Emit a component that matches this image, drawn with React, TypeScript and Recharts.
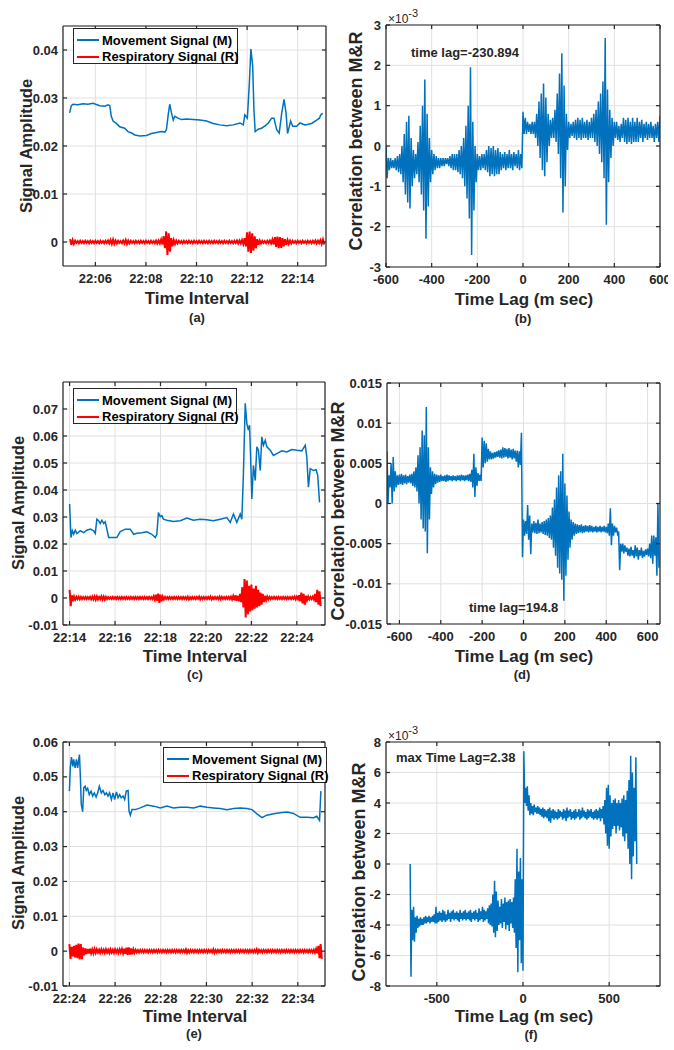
import React from "react";
import { CartesianGrid, Line, LineChart, XAxis, YAxis } from "recharts";

const FONT = '"Liberation Sans", Arial, Helvetica, sans-serif';
const INK = "#262626";
const GRID = "#e0e0e0";
const BLUE = "#0072BD";
const RED = "#FF0000";

const legendLabels = ["Movement Signal (M)", "Respiratory Signal (R)"];

// ---- (a) 22:05 - 22:15, minutes after 22:00 ----
const timeA = [
  4.98, 5.05, 5.12, 5.3, 5.51, 5.7, 5.91, 6.17, 6.37, 6.5, 6.57, 6.63, 6.7, 6.83, 6.96, 7.16, 7.29, 7.43, 7.56,
  7.76, 8.02, 8.22, 8.42, 8.61, 8.75, 8.81, 8.88, 8.94, 9.01, 9.08, 9.14, 9.27, 9.41, 9.6, 9.87, 10.13, 10.4,
  10.66, 10.92, 11.19, 11.45, 11.72, 11.85, 11.91, 12.01, 12.09, 12.15, 12.22, 12.27, 12.32, 12.44, 12.57, 12.71,
  12.84, 12.97, 13.06, 13.17, 13.27, 13.37, 13.46, 13.54, 13.6, 13.67, 13.72, 13.8, 13.96, 14.09, 14.29, 14.55,
  14.75, 14.86, 14.92, 14.99,
];
const moveA = [
  0.0269, 0.0284, 0.0287, 0.0286, 0.0288, 0.0287, 0.0289, 0.0284, 0.0283, 0.0286, 0.0284, 0.0262, 0.0252, 0.0247,
  0.024, 0.0237, 0.023, 0.0227, 0.0223, 0.0221, 0.0222, 0.0226, 0.0228, 0.023, 0.0229, 0.0234, 0.0265, 0.0287,
  0.0269, 0.0254, 0.0262, 0.0258, 0.0255, 0.0256, 0.0255, 0.0254, 0.0252, 0.0247, 0.0244, 0.0242, 0.0244, 0.0248,
  0.0244, 0.0265, 0.0258, 0.0332, 0.0402, 0.0367, 0.0276, 0.023, 0.0235, 0.0237, 0.0242, 0.0248, 0.0258, 0.0258,
  0.0234, 0.0227, 0.0269, 0.0297, 0.0269, 0.0226, 0.0241, 0.0252, 0.0241, 0.0241, 0.0248, 0.0244, 0.0247, 0.0254,
  0.0258, 0.0265, 0.0268,
];
// respiratory envelope (x1e-3), every 0.1 min from 22:05
const respHiA = [
  0.6, 0.4, 0.25, 0.2, 0.25, 0.2, 0.25, 0.2, 0.25, 0.2,
  0.25, 0.2, 0.25, 0.2, 0.25, 0.3, 0.4, 0.5, 0.3, 0.25,
  0.2, 0.3, 0.4, 0.3, 0.25, 0.2, 0.25, 0.2, 0.25, 0.2,
  0.25, 0.2, 0.25, 0.2, 0.3, 0.3, 0.5, 1.2, 2.2, 1.8,
  0.8, 0.4, 0.3, 0.25, 0.2, 0.25, 0.2, 0.25, 0.2, 0.25,
  0.2, 0.25, 0.2, 0.25, 0.2, 0.25, 0.2, 0.25, 0.2, 0.25,
  0.2, 0.25, 0.2, 0.25, 0.2, 0.25, 0.3, 0.3, 0.4, 0.8,
  2.0, 2.2, 1.8, 1.2, 0.6, 0.3, 0.25, 0.2, 0.25, 0.3,
  0.5, 1.0, 1.1, 1.0, 0.8, 0.6, 0.4, 0.3, 0.25, 0.2,
  0.25, 0.2, 0.25, 0.2, 0.25, 0.2, 0.25, 0.3, 0.25, 0.4, 0.5,
];
const respLoA = [
  -0.6, -0.4, -0.2, -0.25, -0.2, -0.25, -0.2, -0.25, -0.2, -0.25,
  -0.2, -0.25, -0.2, -0.25, -0.2, -0.3, -0.4, -0.4, -0.3, -0.2,
  -0.25, -0.3, -0.4, -0.3, -0.2, -0.25, -0.2, -0.25, -0.2, -0.25,
  -0.2, -0.25, -0.2, -0.25, -0.3, -0.3, -0.5, -1.3, -2.7, -2.0,
  -0.9, -0.4, -0.3, -0.2, -0.25, -0.2, -0.25, -0.2, -0.25, -0.2,
  -0.25, -0.2, -0.25, -0.2, -0.25, -0.2, -0.25, -0.2, -0.25, -0.2,
  -0.25, -0.2, -0.25, -0.2, -0.25, -0.2, -0.3, -0.3, -0.4, -0.9,
  -2.0, -2.3, -1.8, -1.3, -0.6, -0.3, -0.2, -0.25, -0.2, -0.3,
  -0.5, -1.0, -1.3, -1.2, -0.9, -0.6, -0.4, -0.3, -0.2, -0.25,
  -0.2, -0.25, -0.2, -0.25, -0.2, -0.25, -0.2, -0.3, -0.25, -0.4, -0.5,
];

// ---- (b) correlation (x1e-3), every 10 ms from -600 ----
const corrHiB = [
  0.0, -0.3, -0.3, -0.35, -0.3, -0.25, -0.2, 0.0, 0.3, 0.6,
  0.75, 0.2, -0.1, -0.2, 0.1, 0.5, 1.0, 1.65, 0.8, 0.2,
  -0.1, -0.2, -0.25, -0.3, -0.3, -0.3, -0.3, -0.3, -0.25, -0.2,
  -0.2, -0.2, -0.1, 0.0, 0.2, 0.5, 1.0, 1.95, 0.6, 0.0,
  -0.2, -0.25, -0.2, -0.2, -0.1, 0.0, -0.05, 0.0, -0.1, -0.05,
  -0.15, -0.2, -0.15, -0.2, -0.1, -0.2, -0.15, -0.2, -0.1, -0.2,
  0.85, 0.7, 0.6, 0.55, 0.6, 0.6, 0.8, 1.1, 1.3, 1.55,
  1.2, 0.8, 0.65, 0.7, 0.9, 1.3, 1.8, 2.3, 1.5, 0.8,
  0.6, 0.55, 0.6, 0.65, 0.7, 0.65, 0.7, 0.6, 0.65, 0.6,
  0.7, 0.8, 0.9, 1.1, 1.3, 1.6, 2.68, 1.4, 0.9, 0.7,
  0.6, 0.6, 0.5, 0.55, 0.7, 0.65, 0.7, 0.6, 0.7, 0.6,
  0.7, 0.6, 0.65, 0.55, 0.6, 0.55, 0.6, 0.5, 0.55, 0.6,
  0.75,
];
const corrLoB = [
  -0.8, -0.6, -0.55, -0.55, -0.6, -0.65, -0.7, -0.9, -1.2, -1.4,
  -1.55, -1.0, -0.8, -0.7, -0.9, -1.2, -1.6, -2.3, -1.5, -0.9,
  -0.7, -0.6, -0.55, -0.55, -0.5, -0.5, -0.45, -0.5, -0.55, -0.6,
  -0.6, -0.65, -0.7, -0.8, -1.0, -1.3, -1.8, -2.7, -1.6, -0.9,
  -0.6, -0.6, -0.55, -0.6, -0.65, -0.75, -0.7, -0.75, -0.7, -0.7,
  -0.6, -0.55, -0.6, -0.55, -0.55, -0.6, -0.5, -0.55, -0.6, -0.55,
  0.3, 0.3, 0.35, 0.3, 0.3, 0.2, 0.0, -0.3, -0.6, -0.75,
  -0.4, 0.0, 0.2, 0.2, 0.1, -0.2, -0.8, -1.65, -1.0, -0.1,
  0.2, 0.25, 0.2, 0.15, 0.2, 0.15, 0.2, 0.2, 0.15, 0.2,
  0.2, 0.1, 0.0, -0.2, -0.4, -0.8, -1.95, -0.9, -0.3, 0.0,
  0.2, 0.15, 0.1, 0.2, 0.1, 0.05, 0.1, 0.05, 0.1, 0.1,
  0.1, 0.2, 0.1, 0.2, 0.15, 0.2, 0.2, 0.1, 0.2, 0.1,
  0.15,
];

// ---- (c) 22:14 - 22:25 ----
const timeC = [
  14.0, 14.06, 14.12, 14.18, 14.25, 14.32, 14.47, 14.62, 14.76, 14.91, 15.06, 15.13, 15.2, 15.28, 15.35, 15.42,
  15.5, 15.57, 15.64, 15.72, 15.86, 16.08, 16.23, 16.45, 16.67, 16.82, 16.96, 17.18, 17.4, 17.62, 17.77, 17.84,
  17.91, 17.99, 18.06, 18.13, 18.28, 18.57, 18.87, 19.16, 19.45, 19.75, 20.04, 20.33, 20.63, 20.92, 21.07, 21.21,
  21.36, 21.51, 21.58, 21.65, 21.73, 21.8, 21.87, 21.92, 21.98, 22.02, 22.09, 22.17, 22.24, 22.31, 22.39, 22.46,
  22.53, 22.61, 22.68, 22.83, 22.97, 23.12, 23.34, 23.56, 23.78, 24.0, 24.22, 24.37, 24.44, 24.51, 24.59, 24.73,
  24.85, 24.92, 25.0,
];
const moveC = [
  0.0348, 0.0224, 0.0249, 0.0236, 0.0251, 0.0239, 0.0249, 0.0242, 0.0251, 0.0255, 0.0249, 0.0239, 0.0292, 0.0286,
  0.0276, 0.0288, 0.0276, 0.0282, 0.0255, 0.0224, 0.0224, 0.0224, 0.0246, 0.0255, 0.0255, 0.0236, 0.024, 0.0242,
  0.0245, 0.0236, 0.0224, 0.0236, 0.0316, 0.0301, 0.0305, 0.0292, 0.0288, 0.0283, 0.0286, 0.0296, 0.0288, 0.0292,
  0.029, 0.0286, 0.0292, 0.0298, 0.028, 0.0311, 0.028, 0.0311, 0.0292, 0.046, 0.0721, 0.0647, 0.0622, 0.064,
  0.0485, 0.0367, 0.0491, 0.0435, 0.056, 0.0547, 0.0472, 0.0597, 0.0566, 0.0584, 0.056, 0.0547, 0.0528, 0.0535,
  0.0545, 0.0541, 0.055, 0.0547, 0.0545, 0.0566, 0.0522, 0.041, 0.0479, 0.0472, 0.0475, 0.0454, 0.0354,
];
const respHiC = [
  3.0, 1.0, 0.5, 0.4, 0.5, 0.4, 0.3, 0.4, 0.3, 0.4,
  0.5, 0.6, 0.6, 0.4, 0.6, 0.5, 0.4, 0.3, 0.3, 0.4,
  0.3, 0.4, 0.3, 0.4, 0.3, 0.4, 0.3, 0.4, 0.3, 0.4,
  0.3, 0.4, 0.3, 0.4, 0.3, 0.4, 0.3, 0.6, 1.2, 1.6,
  1.2, 0.5, 0.4, 0.3, 0.4, 0.3, 0.4, 0.3, 0.4, 0.3,
  0.4, 0.3, 0.5, 0.3, 0.4, 0.3, 0.4, 0.5, 0.3, 0.4,
  0.3, 0.4, 0.5, 0.3, 0.4, 0.3, 0.5, 0.4, 0.3, 0.4,
  0.4, 0.5, 0.7, 1.0, 0.8, 1.5, 4.0, 7.0, 6.5, 4.5,
  5.0, 3.5, 4.5, 3.0, 2.0, 1.5, 0.8, 0.5, 0.4, 0.3,
  0.4, 0.3, 0.4, 0.3, 0.4, 0.3, 0.4, 0.3, 0.4, 0.5,
  0.5, 1.0, 2.0, 1.5, 0.8, 0.5, 0.4, 0.5, 1.5, 3.0, 2.5,
];
const respLoC = [
  -3.0, -1.2, -0.6, -0.4, -0.5, -0.4, -0.3, -0.4, -0.3, -0.5,
  -0.5, -0.6, -0.5, -0.4, -0.6, -0.6, -0.4, -0.3, -0.3, -0.3,
  -0.4, -0.3, -0.4, -0.3, -0.4, -0.3, -0.4, -0.3, -0.4, -0.3,
  -0.4, -0.3, -0.4, -0.3, -0.4, -0.3, -0.4, -0.6, -1.0, -1.8,
  -1.2, -0.5, -0.3, -0.4, -0.3, -0.4, -0.3, -0.4, -0.3, -0.4,
  -0.3, -0.4, -0.5, -0.4, -0.3, -0.4, -0.3, -0.5, -0.4, -0.3,
  -0.4, -0.3, -0.5, -0.4, -0.3, -0.4, -0.5, -0.3, -0.4, -0.3,
  -0.4, -0.5, -0.8, -1.0, -1.2, -1.5, -3.5, -7.2, -6.0, -5.0,
  -4.5, -4.0, -3.5, -3.0, -2.5, -1.5, -0.8, -0.5, -0.4, -0.3,
  -0.3, -0.4, -0.3, -0.4, -0.3, -0.4, -0.3, -0.4, -0.3, -0.5,
  -0.4, -1.2, -2.0, -2.5, -0.8, -0.5, -0.4, -0.5, -1.5, -2.5, -3.0,
];

// ---- (d) correlation (x1e-3), every 10 ms from -660 ----
const corrHiD = [
  6.5, 3.5, 5.0, 5.8, 4.0, 3.5, 3.6, 3.7, 3.5, 3.6,
  3.4, 3.6, 3.7, 4.0, 4.5, 6.0, 7.0, 9.1, 8.5, 12.0,
  7.0, 4.5, 4.0, 3.7, 3.6, 3.5, 3.6, 3.4, 3.5, 3.6,
  3.5, 3.4, 3.5, 3.4, 3.5, 3.5, 3.6, 3.5, 3.5, 3.6,
  3.7, 4.2, 6.2, 4.5, 3.8, 3.6, 8.2, 7.8, 7.5, 6.8,
  6.5, 6.3, 6.4, 6.5, 6.6, 6.7, 7.0, 6.9, 6.8, 6.9,
  6.7, 6.8, 6.6, 6.6, 6.5, 8.8, -2.0, -2.2, -0.2, -1.5,
  -2.5, -2.2, -2.4, -2.0, -2.5, -2.3, -2.2, -2.0, -1.8, -1.5,
  -0.5, 0.5, 2.0, 3.5, 4.0, 6.2, 2.5, 1.0, -1.0, -2.0,
  -2.3, -2.5, -2.6, -2.7, -2.6, -2.8, -2.7, -2.8, -2.7, -2.8,
  -2.9, -2.8, -2.9, -2.8, -2.9, -2.8, -2.9, -2.5, -0.6, -2.5,
  -2.8, -3.0, -3.5, -5.0, -5.0, -5.2, -5.5, -5.6, -5.4, -5.8,
  -5.2, -5.5, -5.8, -5.5, -5.9, -5.7, -5.6, -5.0, -4.0, -4.0,
  -4.2, 0.0,
];
const corrLoD = [
  0.0, 2.0, 0.0, 1.5, 2.0, 2.3, 2.4, 2.3, 2.5, 2.4,
  2.6, 2.5, 2.2, 2.0, 1.5, 0.0, -2.0, -3.1, -3.5, -6.2,
  -2.0, 1.2, 2.0, 2.4, 2.6, 2.7, 2.8, 2.8, 2.7, 2.8,
  2.9, 2.8, 2.9, 2.8, 2.9, 2.8, 2.9, 2.8, 2.9, 2.8,
  2.7, 2.0, 0.8, 2.2, 2.8, 2.8, 4.5, 5.0, 5.2, 5.5,
  5.5, 5.6, 5.7, 5.8, 5.7, 5.6, 5.7, 5.8, 5.6, 5.7,
  5.5, 5.6, 5.2, 4.5, 4.8, -6.7, -4.0, -3.8, -4.5, -6.3,
  -3.6, -3.7, -3.8, -3.7, -3.6, -3.8, -3.9, -4.0, -4.3, -4.5,
  -5.5, -6.5, -8.0, -8.7, -9.5, -12.1, -9.0, -7.0, -5.5, -4.5,
  -4.0, -3.8, -3.7, -3.6, -3.7, -3.6, -3.5, -3.6, -3.5, -3.6,
  -3.5, -3.6, -3.5, -3.6, -3.5, -3.6, -3.7, -4.0, -5.2, -4.0,
  -3.6, -3.8, -8.3, -6.0, -6.2, -6.0, -6.5, -6.6, -6.5, -6.8,
  -6.6, -7.0, -6.5, -6.8, -6.6, -6.4, -6.6, -6.8, -7.5, -6.5,
  -9.0, -8.0,
];

// ---- (e) 22:24 - 22:35 ----
const timeE = [
  24.0, 24.04, 24.09, 24.15, 24.19, 24.25, 24.31, 24.36, 24.44, 24.48, 24.52, 24.58, 24.63, 24.69, 24.74, 24.8,
  24.87, 24.95, 25.02, 25.09, 25.17, 25.24, 25.31, 25.4, 25.47, 25.55, 25.62, 25.69, 25.76, 25.84, 25.91, 25.98,
  26.06, 26.13, 26.2, 26.27, 26.35, 26.42, 26.49, 26.57, 26.61, 26.67, 26.74, 26.89, 27.1, 27.4, 27.69, 27.98,
  28.27, 28.56, 28.85, 29.15, 29.44, 29.73, 30.02, 30.31, 30.6, 30.9, 31.19, 31.48, 31.77, 31.99, 32.21, 32.43,
  32.64, 32.94, 33.23, 33.52, 33.81, 34.1, 34.39, 34.69, 34.83, 34.95, 35.01,
];
const moveE = [
  0.0459, 0.0526, 0.0557, 0.053, 0.055, 0.0526, 0.055, 0.0526, 0.0564, 0.0502, 0.0421, 0.04, 0.0469, 0.0473,
  0.0461, 0.0467, 0.0449, 0.0459, 0.0445, 0.0454, 0.0442, 0.0454, 0.0473, 0.0454, 0.0461, 0.0449, 0.0454, 0.0445,
  0.0454, 0.0435, 0.0454, 0.0435, 0.0457, 0.044, 0.0449, 0.044, 0.0445, 0.0435, 0.0459, 0.0461, 0.0402, 0.039,
  0.0406, 0.0406, 0.0411, 0.0419, 0.0416, 0.0411, 0.0416, 0.0411, 0.0413, 0.0413, 0.0411, 0.0416, 0.0413, 0.0411,
  0.0409, 0.0406, 0.0409, 0.0411, 0.0409, 0.0406, 0.0394, 0.0383, 0.039, 0.0394, 0.0397, 0.0399, 0.0395, 0.0384,
  0.0384, 0.0383, 0.0387, 0.0375, 0.0459,
];
const respHiE = [
  2.0, 1.2, 1.5, 1.8, 2.2, 2.0, 1.0, 0.8, 0.6, 0.7,
  0.5, 0.6, 0.5, 0.4, 0.5, 0.4, 0.5, 0.4, 0.5, 0.4,
  0.5, 0.4, 0.5, 0.6, 0.7, 1.0, 1.1, 0.8, 0.5, 0.35,
  0.3, 0.35, 0.3, 0.35, 0.3, 0.35, 0.3, 0.35, 0.3, 0.35,
  0.3, 0.35, 0.3, 0.35, 0.3, 0.35, 0.3, 0.35, 0.3, 0.35,
  0.3, 0.5, 0.3, 0.35, 0.3, 0.35, 0.3, 0.35, 0.3, 0.35,
  0.3, 0.35, 0.3, 0.5, 0.3, 0.35, 0.3, 0.35, 0.3, 0.35,
  0.3, 0.35, 0.3, 0.35, 0.3, 0.35, 0.3, 0.35, 0.3, 0.35,
  0.3, 0.35, 0.5, 0.35, 0.3, 0.35, 0.3, 0.35, 0.3, 0.35,
  0.3, 0.35, 0.3, 0.35, 0.3, 0.35, 0.3, 0.35, 0.3, 0.35,
  0.3, 0.35, 0.3, 0.35, 0.3, 0.35, 0.3, 0.4, 0.6, 1.5, 2.0,
];
const respLoE = [
  -2.2, -1.5, -1.8, -2.0, -2.4, -2.3, -1.2, -0.8, -0.7, -0.6,
  -0.6, -0.5, -0.4, -0.5, -0.4, -0.5, -0.4, -0.5, -0.4, -0.5,
  -0.4, -0.5, -0.4, -0.6, -0.8, -1.1, -1.0, -0.9, -0.5, -0.35,
  -0.35, -0.3, -0.35, -0.3, -0.35, -0.3, -0.35, -0.3, -0.35, -0.3,
  -0.35, -0.3, -0.35, -0.3, -0.35, -0.3, -0.35, -0.3, -0.35, -0.3,
  -0.35, -0.5, -0.35, -0.3, -0.35, -0.3, -0.35, -0.3, -0.35, -0.3,
  -0.35, -0.3, -0.35, -0.5, -0.35, -0.3, -0.35, -0.3, -0.35, -0.3,
  -0.35, -0.3, -0.35, -0.3, -0.35, -0.3, -0.35, -0.3, -0.35, -0.3,
  -0.35, -0.3, -0.5, -0.3, -0.35, -0.3, -0.35, -0.3, -0.35, -0.3,
  -0.35, -0.3, -0.35, -0.3, -0.35, -0.3, -0.35, -0.3, -0.35, -0.3,
  -0.35, -0.3, -0.35, -0.3, -0.35, -0.3, -0.35, -0.4, -0.6, -2.0, -2.2,
];

// ---- (f) correlation (x1e-3), every 10 ms from -655 ----
const corrHiF = [
  0.0, -3.0, -2.8, -3.5, -3.4, -3.6, -3.5, -3.6, -3.5, -3.4,
  -3.5, -3.4, -3.5, -3.4, -3.3, -2.8, -3.2, -3.1, -3.2, -3.0,
  -3.1, -3.3, -3.0, -3.2, -3.1, -3.0, -3.2, -3.1, -3.2, -3.0,
  -3.2, -3.1, -3.0, -3.2, -3.1, -3.0, -3.2, -3.1, -3.0, -3.2,
  -2.9, -3.1, -2.8, -3.0, -3.1, -2.9, -2.7, -2.6, -2.0, -1.1,
  -1.8, -2.4, -2.8, -2.3, -2.6, -2.2, -2.5, -2.4, -2.3, -2.5,
  -2.2, -1.0, 1.0, -0.5, 0.4, -1.0, 7.4, 5.0, 5.1, 4.5,
  4.0, 3.8, 3.9, 3.7, 3.8, 3.7, 3.6, 3.7, 3.6, 3.5,
  3.6, 3.7, 3.5, 3.6, 3.5, 3.4, 3.6, 3.5, 3.4, 3.6,
  3.5, 3.7, 3.5, 3.6, 3.4, 3.5, 3.6, 3.4, 3.6, 3.5,
  3.7, 3.5, 3.4, 3.6, 3.5, 3.6, 3.4, 3.5, 3.6, 3.5,
  3.7, 3.6, 3.8, 4.2, 5.0, 5.2, 4.5, 4.0, 4.2, 4.3,
  4.0, 4.2, 4.0, 4.3, 4.5, 4.2, 4.8, 5.5, 7.1, 6.0,
  5.0, 7.0,
];
const corrLoF = [
  -7.4, -5.0, -5.1, -4.5, -4.2, -4.1, -4.0, -4.0, -3.9, -3.9,
  -3.8, -3.9, -3.8, -3.8, -3.9, -3.9, -3.8, -3.7, -3.8, -3.7,
  -3.8, -3.7, -3.6, -3.8, -3.6, -3.7, -3.6, -3.7, -3.8, -3.6,
  -3.7, -3.6, -3.7, -3.6, -3.7, -3.8, -3.6, -3.7, -3.6, -3.8,
  -3.7, -3.6, -3.8, -3.7, -3.6, -3.9, -4.0, -4.1, -4.5, -4.8,
  -4.4, -4.0, -3.9, -4.2, -3.8, -4.3, -4.0, -4.4, -3.9, -4.2,
  -4.5, -5.5, -7.1, -5.0, -6.5, -7.0, 4.0, 3.8, 3.5, 3.2,
  3.3, 3.2, 3.4, 3.3, 3.3, 3.2, 3.1, 3.0, 3.1, 3.0,
  2.8, 2.7, 3.0, 2.9, 3.0, 2.9, 3.0, 3.1, 2.9, 3.0,
  2.8, 3.0, 3.1, 2.9, 3.0, 2.9, 3.0, 3.1, 2.9, 3.0,
  3.1, 3.0, 2.9, 3.0, 3.1, 3.0, 2.9, 3.0, 2.9, 3.0,
  2.8, 3.0, 2.6, 2.0, 1.2, 1.0, 1.8, 2.3, 2.5, 2.0,
  2.5, 2.2, 2.4, 1.8, 1.5, 2.0, 1.0, 0.0, -1.0, 0.5,
  1.5, 0.0,
];

const minuteTicksA = [6, 8, 10, 12, 14];
const minuteTicksC = [14, 16, 18, 20, 22, 24];
const minuteTicksE = [24, 26, 28, 30, 32, 34];
const ampTicksA = [0, 0.01, 0.02, 0.03, 0.04];
const ampTicksC = [-0.01, 0, 0.01, 0.02, 0.03, 0.04, 0.05, 0.06, 0.07];
const ampTicksE = [-0.01, 0, 0.01, 0.02, 0.03, 0.04, 0.05, 0.06];
const lagTicksB = [-600, -400, -200, 0, 200, 400, 600];
const lagTicksD = [-600, -400, -200, 0, 200, 400, 600];
const lagTicksF = [-500, 0, 500];
const corrTicksB = [-3, -2, -1, 0, 1, 2, 3];
const corrTicksD = [-0.015, -0.01, -0.005, 0, 0.005, 0.01, 0.015];
const corrTicksF = [-8, -6, -4, -2, 0, 2, 4, 6, 8];

type Pt = { x: number; y: number };

const pairs = (xs: number[], ys: number[]): Pt[] => xs.map((x, i) => ({ x, y: ys[i] }));

// dense signals: alternate the upper and lower envelope samples
const zigzag = (x0: number, step: number, hi: number[], lo: number[], k = 1): Pt[] => {
  const out: Pt[] = [];
  hi.forEach((h, i) => {
    const x = x0 + i * step;
    out.push({ x, y: h * k });
    out.push({ x: x + step / 2, y: lo[i] * k });
  });
  return out;
};

const clock = (v: number) => `22:${String(v).padStart(2, "0")}`;
const blank = () => "";

type Series = { data: Pt[]; color: string; width: number };
interface PanelProps {
  left: number;
  top: number;
  width: number;
  height: number;
  xDomain: [number, number];
  xTicks: number[];
  xFmt?: (v: number) => string;
  yDomain: [number, number];
  yTicks: number[];
  series: Series[];
}

const YW = 50;
const XH = 34;
const PAD = 8;
const tickStyle = { fill: INK, fontSize: 13, fontWeight: 700, fontFamily: FONT };

function Panel(p: PanelProps) {
  return (
    <div style={{ position: "absolute", left: p.left - YW, top: p.top - PAD }}>
      <LineChart
        width={p.width + YW + PAD}
        height={p.height + PAD + XH}
        margin={{ top: 0, right: 0, bottom: 0, left: 0 }}
      >
        <CartesianGrid stroke={GRID} strokeWidth={1} />
        <XAxis
          type="number"
          dataKey="x"
          domain={p.xDomain}
          ticks={p.xTicks}
          tickFormatter={p.xFmt}
          interval={0}
          allowDataOverflow
          height={XH}
          stroke={INK}
          strokeWidth={1.2}
          tickSize={-4}
          tickMargin={12}
          tick={tickStyle}
        />
        <XAxis
          xAxisId="top"
          orientation="top"
          type="number"
          dataKey="x"
          domain={p.xDomain}
          ticks={p.xTicks}
          tickFormatter={blank}
          interval={0}
          allowDataOverflow
          height={PAD}
          stroke={INK}
          strokeWidth={1.2}
          tickSize={-4}
        />
        <YAxis
          type="number"
          domain={p.yDomain}
          ticks={p.yTicks}
          tickFormatter={(v: number) => String(v)}
          interval={0}
          allowDataOverflow
          width={YW}
          stroke={INK}
          strokeWidth={1.2}
          tickSize={-4}
          tickMargin={9}
          tick={tickStyle}
        />
        <YAxis
          yAxisId="right"
          orientation="right"
          type="number"
          domain={p.yDomain}
          ticks={p.yTicks}
          tickFormatter={blank}
          interval={0}
          allowDataOverflow
          width={PAD}
          stroke={INK}
          strokeWidth={1.2}
          tickSize={-4}
        />
        {p.series.map((s, i) => (
          <Line
            key={i}
            data={s.data}
            dataKey="y"
            type="linear"
            stroke={s.color}
            strokeWidth={s.width}
            strokeLinejoin="miter"
            dot={false}
            activeDot={false}
            isAnimationActive={false}
          />
        ))}
      </LineChart>
    </div>
  );
}

function Txt(props: { x: number; y: number; size: number; children: React.ReactNode; start?: boolean; rotate?: boolean }) {
  const shift = props.start ? "translate(0,-50%)" : "translate(-50%,-50%)";
  return (
    <div
      style={{
        position: "absolute",
        left: props.x,
        top: props.y,
        transform: props.rotate ? `${shift} rotate(-90deg)` : shift,
        fontFamily: FONT,
        fontWeight: 700,
        fontSize: props.size,
        lineHeight: 1,
        color: INK,
        whiteSpace: "nowrap",
      }}
    >
      {props.children}
    </div>
  );
}

function Exponent({ x, y }: { x: number; y: number }) {
  return (
    <div style={{ position: "absolute", left: x, top: y, fontFamily: FONT, fontSize: 12, lineHeight: 1, color: INK, whiteSpace: "nowrap" }}>
      ×10<span style={{ position: "relative", top: -6, fontSize: 11 }}>-3</span>
    </div>
  );
}

function LegendBox({ left, top, width }: { left: number; top: number; width: number }) {
  const colors = [BLUE, RED];
  return (
    <div
      style={{
        position: "absolute",
        left,
        top,
        width,
        height: 36,
        boxSizing: "border-box",
        border: `1px solid ${INK}`,
        background: "#fff",
        fontFamily: FONT,
        fontWeight: 700,
        fontSize: 13,
        color: "#000",
      }}
    >
      {legendLabels.map((label, i) => (
        <div
          key={label}
          style={{ position: "absolute", left: 3, top: 4 + i * 16.7, height: 14, display: "flex", alignItems: "center", whiteSpace: "nowrap" }}
        >
          <span style={{ display: "inline-block", width: 22, height: 2, background: colors[i], marginRight: 3 }} />
          <span>{label}</span>
        </div>
      ))}
    </div>
  );
}

export default function App() {
  const lineM = (xs: number[], ys: number[]): Series => ({ data: pairs(xs, ys), color: BLUE, width: 1.5 });
  const lineR = (t0: number, hi: number[], lo: number[]): Series => ({
    data: zigzag(t0, 0.1, hi, lo, 0.001),
    color: RED,
    width: 2,
  });
  const lineC = (x0: number, hi: number[], lo: number[], k = 1): Series => ({
    data: zigzag(x0, 10, hi, lo, k),
    color: BLUE,
    width: 1.5,
  });

  return (
    <div style={{ position: "absolute", left: 0, top: 0, width: 674, height: 1050, background: "#fff", overflow: "hidden" }}>
      {/* (a) */}
      <Panel
        left={63}
        top={26}
        width={263}
        height={240}
        xDomain={[4.72, 15.12]}
        xTicks={minuteTicksA}
        xFmt={clock}
        yDomain={[-0.005, 0.045]}
        yTicks={ampTicksA}
        series={[lineM(timeA, moveA), lineR(5, respHiA, respLoA)]}
      />
      <LegendBox left={73} top={28} width={165} />
      <Txt x={26} y={146} size={16.5} rotate>Signal Amplitude</Txt>
      <Txt x={197} y={298} size={17}>Time Interval</Txt>
      <Txt x={197} y={317} size={13}>(a)</Txt>

      {/* (b) */}
      <Panel
        left={386}
        top={25}
        width={274}
        height={242}
        xDomain={[-600, 600]}
        xTicks={lagTicksB}
        yDomain={[-3, 3]}
        yTicks={corrTicksB}
        series={[lineC(-600, corrHiB, corrLoB)]}
      />
      <Exponent x={388} y={13} />
      <Txt x={411} y={52} size={13} start>time lag=-230.894</Txt>
      <Txt x={356} y={141} size={18} rotate>Correlation between M&amp;R</Txt>
      <Txt x={524} y={299} size={17}>Time Lag (m sec)</Txt>
      <Txt x={523} y={318} size={13}>(b)</Txt>

      {/* (c) */}
      <Panel
        left={63}
        top={382}
        width={262}
        height={243}
        xDomain={[13.71, 25.24]}
        xTicks={minuteTicksC}
        xFmt={clock}
        yDomain={[-0.01, 0.08]}
        yTicks={ampTicksC}
        series={[lineM(timeC, moveC), lineR(14, respHiC, respLoC)]}
      />
      <LegendBox left={73} top={388} width={164} />
      <Txt x={18} y={503} size={16.5} rotate>Signal Amplitude</Txt>
      <Txt x={195} y={656} size={17}>Time Interval</Txt>
      <Txt x={195} y={674} size={13}>(c)</Txt>

      {/* (d) */}
      <Panel
        left={387}
        top={383}
        width={273}
        height={241}
        xDomain={[-660, 660]}
        xTicks={lagTicksD}
        yDomain={[-0.015, 0.015]}
        yTicks={corrTicksD}
        series={[lineC(-660, corrHiD, corrLoD, 0.001)]}
      />
      <Txt x={469} y={607} size={13} start>time lag=194.8</Txt>
      <Txt x={337.5} y={511} size={18} rotate>Correlation between M&amp;R</Txt>
      <Txt x={524} y={656} size={17}>Time Lag (m sec)</Txt>
      <Txt x={522} y={674} size={13}>(d)</Txt>

      {/* (e) */}
      <Panel
        left={63}
        top={742}
        width={262}
        height={244}
        xDomain={[23.72, 35.19]}
        xTicks={minuteTicksE}
        xFmt={clock}
        yDomain={[-0.01, 0.06]}
        yTicks={ampTicksE}
        series={[lineM(timeE, moveE), lineR(24, respHiE, respLoE)]}
      />
      <LegendBox left={163} top={747} width={164} />
      <Txt x={18} y={863} size={16.5} rotate>Signal Amplitude</Txt>
      <Txt x={195} y={1016} size={17}>Time Interval</Txt>
      <Txt x={194} y={1033} size={13}>(e)</Txt>

      {/* (f) */}
      <Panel
        left={386}
        top={742}
        width={274}
        height={244}
        xDomain={[-795, 795]}
        xTicks={lagTicksF}
        yDomain={[-8, 8]}
        yTicks={corrTicksF}
        series={[lineC(-655, corrHiF, corrLoF)]}
      />
      <Exponent x={388} y={730} />
      <Txt x={396} y={757} size={13} start>max Time Lag=2.38</Txt>
      <Txt x={359} y={872} size={18} rotate>Correlation between M&amp;R</Txt>
      <Txt x={524} y={1016} size={17}>Time Lag (m sec)</Txt>
      <Txt x={531} y={1034} size={13}>(f)</Txt>
    </div>
  );
}
